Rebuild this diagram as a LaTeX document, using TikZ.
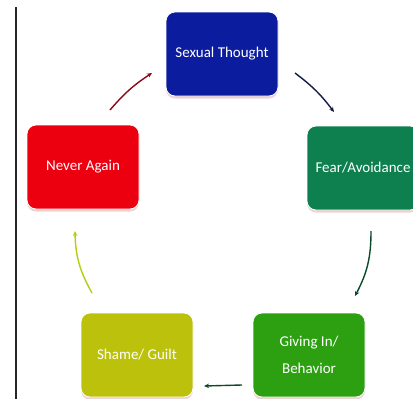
\documentclass[tikz,border=0pt]{standalone}
\usepackage{fontspec}
\setmainfont{Carlito}
\usetikzlibrary{arrows.meta,shadows}
\definecolor{cblue}{HTML}{0C1C9E}
\definecolor{cfear}{HTML}{0E7F4E}
\definecolor{cred}{HTML}{EC0010}
\definecolor{cshame}{HTML}{BCC20C}
\definecolor{cgive}{HTML}{2DA012}
\definecolor{carrred}{HTML}{8E0A14}
\definecolor{carrnavy}{HTML}{141A40}
\definecolor{carrgreen}{HTML}{0B4A2A}
\definecolor{carryel}{HTML}{B8CC10}
\tikzset{
  box/.style={draw=white, line width=0.8pt, rounded corners=9pt, minimum width=112pt,
    minimum height=84pt, text=white, align=center, font=\fontsize{15}{27}\selectfont,
    drop shadow={shadow xshift=0pt, shadow yshift=-2.5pt, fill=gray!55!red!30, opacity=0.8}},
  conn/.style={-{Stealth[length=5pt,width=4.5pt]}, line width=1.4pt}
}
\begin{document}
\begin{tikzpicture}[x=1pt,y=-1pt]
\useasboundingbox[fill=white] (0,0) rectangle (413,399);
\draw[line width=1.6pt, black!85] (16,7) -- (16,399);
\node[box, fill=cblue] (st) at (222,54) {Sexual Thought};
\node[box, fill=cfear] (fa) at (363,168) {Fear/Avoidance};
\node[box, fill=cred] (na) at (83,167) {Never Again};
\node[box, fill=cshame] (sg) at (137,355) {Shame/ Guilt};
\node[box, fill=cgive] (gi) at (309,355) {Giving In/\\Behavior};
\coordinate (r1) at (110,110);
\coordinate (r2) at (152,73);
\coordinate (n1) at (295,73);
\coordinate (n2) at (334,112);
\coordinate (g1) at (371,231);
\coordinate (g2) at (355,296);
\coordinate (h1) at (242,385);
\coordinate (h2) at (204,386);
\coordinate (y1) at (92,293);
\coordinate (y2) at (75,231);
\draw[conn, carrred] (r1) to[bend left=8] (r2);
\draw[conn, carrnavy] (n1) to[bend left=8] (n2);
\draw[conn, carrgreen] (g1) to[bend left=14] (g2);
\draw[conn, carrgreen] (h1) -- (h2);
\draw[conn, carryel] (y1) to[bend left=14] (y2);
\end{tikzpicture}
\end{document}
